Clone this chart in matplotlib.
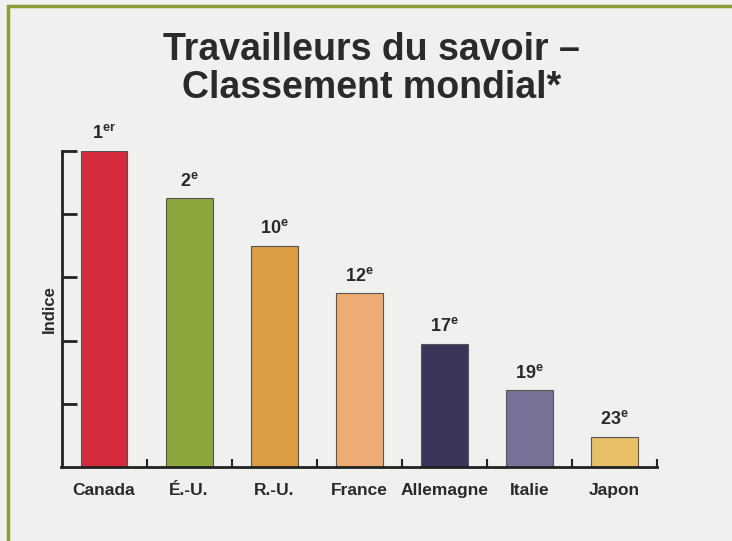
import matplotlib
matplotlib.use("Agg")
from matplotlib import pyplot as plt
from matplotlib.patches import Rectangle

countries = ["Canada", "É.-U.", "R.-U.", "France", "Allemagne", "Italie", "Japon"]
index_values = [5.0, 4.25, 3.5, 2.75, 1.95, 1.22, 0.48]
rank_numbers = ["1", "2", "10", "12", "17", "19", "23"]
rank_suffixes = ["er", "e", "e", "e", "e", "e", "e"]
colors = ["#d52b3c", "#8ba63c", "#dc9c42", "#eeab74", "#3b3659", "#787299", "#e8c067"]

plt.rcParams["font.family"] = ["Liberation Sans", "DejaVu Sans"]
plt.rcParams["mathtext.fontset"] = "custom"
plt.rcParams["mathtext.bf"] = "Liberation Sans:bold"
plt.rcParams["mathtext.rm"] = "Liberation Sans:bold"
plt.rcParams["mathtext.it"] = "Liberation Sans:bold"

BG = "#f0f0ef"
TEXT = "#2a2a2a"

fig = plt.figure(figsize=(7.32, 5.41), dpi=100, facecolor=BG)

# green frame
fig.patches.append(Rectangle((8 / 732, -0.05), 1.1, (541 - 6) / 541 + 0.05,
                             transform=fig.transFigure, fill=False,
                             edgecolor="#8a9c3c", linewidth=2.5))

fig.text(0.508, 0.908, "Travailleurs du savoir –", ha="center", va="center",
         fontsize=27, fontweight="bold", color=TEXT)
fig.text(0.508, 0.838, "Classement mondial*", ha="center", va="center",
         fontsize=27, fontweight="bold", color=TEXT)

ax = fig.add_axes([61.5 / 732, 1 - 467 / 541, (657 - 61.5) / 732, (467 - 151) / 541])
ax.set_facecolor(BG)

x = list(range(len(countries)))
ax.bar(x, index_values, width=0.55, color=colors, edgecolor="#555555", linewidth=0.8, zorder=2)

for xi, v, n, s in zip(x, index_values, rank_numbers, rank_suffixes):
    ax.annotate(r"$\mathbf{%s}^{\mathbf{%s}}$" % (n, s), (xi, v), xytext=(0, 6),
                textcoords="offset points", ha="center", va="bottom",
                fontsize=13, color=TEXT)

ax.set_xlim(-0.5, 6.5)
ax.set_ylim(0, 5)
for side in ["top", "right"]:
    ax.spines[side].set_visible(False)
for side in ["left", "bottom"]:
    ax.spines[side].set_linewidth(2)
    ax.spines[side].set_color("#222222")

ax.set_yticks([1, 2, 3, 4, 5])
ax.set_yticklabels([])
ax.tick_params(axis="y", direction="in", length=11, width=2, color="#222222")

ax.set_xticks([i + 0.5 for i in x])
ax.set_xticklabels([])
ax.tick_params(axis="x", direction="in", length=6, width=1.5, color="#222222")

for xi, c in zip(x, countries):
    ax.text(xi, -0.25, c, ha="center", va="top", fontsize=12.5, fontweight="bold",
            color=TEXT, transform=ax.transData)

ax.set_ylabel("Indice", fontsize=12, fontweight="bold", color=TEXT, labelpad=0)

fig.savefig("out.png", dpi=100, facecolor=BG)
